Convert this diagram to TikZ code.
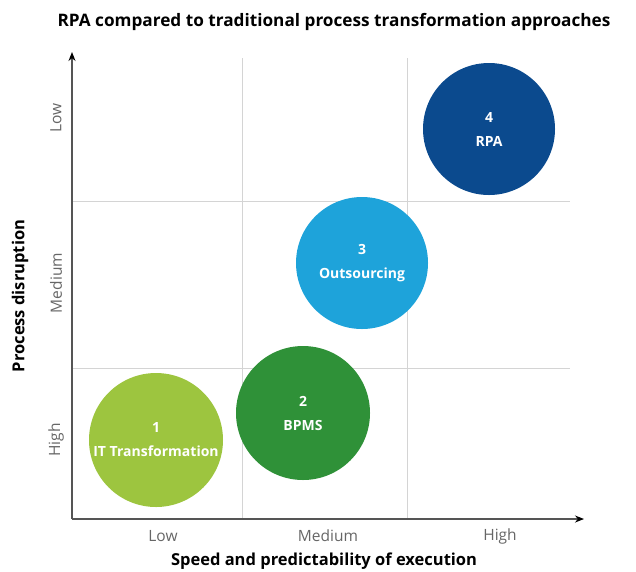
\documentclass[tikz,border=0pt]{standalone}
\usepackage{fontspec}
\setmainfont{Open Sans}
\usetikzlibrary{arrows.meta}

\definecolor{itgreen}{HTML}{9DC53F}
\definecolor{bpmsgreen}{HTML}{2F9138}
\definecolor{outblue}{HTML}{1EA3DA}
\definecolor{rpablue}{HTML}{0B4A8E}
\definecolor{gridgray}{HTML}{D4D4D4}
\definecolor{axisgray}{HTML}{555555}

\begin{document}
\begin{tikzpicture}[x=1pt,y=-1pt,
    bubble/.style={circle, inner sep=0pt, minimum size=134pt, text=white, align=center,
        font=\fontsize{14}{24}\selectfont\bfseries},
    ticklabel/.style={text=black!60, font=\fontsize{15.5}{18}\selectfont},
    axislabel/.style={font=\fontsize{16.5}{20}\selectfont\bfseries}]

    \useasboundingbox (0,0) rectangle (636,571);

    % Title
    \node[font=\fontsize{17.2}{22}\selectfont\bfseries] (title) at (334,22)
        {RPA compared to traditional process transformation approaches};

    % Grid
    \draw[gridgray, line width=1pt] (242,58) -- (242,518);
    \draw[gridgray, line width=1pt] (407,58) -- (407,518);
    \draw[gridgray, line width=1pt] (72,201) -- (570,201);
    \draw[gridgray, line width=1pt] (72,368) -- (570,368);

    % Axes
    \coordinate (origin) at (72,519);
    \coordinate (ytip) at (72,52);
    \coordinate (xtip) at (584,519);
    \draw[axisgray, line width=1.4pt, -{Stealth[length=9pt,width=7pt,black]}] (origin) -- (ytip);
    \draw[axisgray, line width=1.4pt, -{Stealth[length=9pt,width=7pt,black]}] (origin) -- (xtip);

    % Tick labels
    \node[ticklabel] (xlow) at (163,536) {Low};
    \node[ticklabel] (xmed) at (328,536) {Medium};
    \node[ticklabel] (xhigh) at (500,536) {High};
    \node[ticklabel, rotate=90] (ylow) at (56,118) {Low};
    \node[ticklabel, rotate=90] (ymed) at (56,283) {Medium};
    \node[ticklabel, rotate=90] (yhigh) at (56,440) {High};

    % Axis titles
    \node[axislabel] (xtitle) at (324,561) {Speed and predictability of execution};
    \node[axislabel, rotate=90] (ytitle) at (20,296) {Process disruption};

    % Approaches
    \node[bubble, fill=itgreen] (it) at (156,440) {1\\IT Transformation};
    \node[bubble, fill=bpmsgreen] (bpms) at (303,413) {2\\BPMS};
    \node[bubble, fill=outblue, minimum size=132pt] (out) at (362,263) {3\\Outsourcing};
    \node[bubble, fill=rpablue, minimum size=132pt] (rpa) at (489,129) {4\\RPA};

\end{tikzpicture}
\end{document}
